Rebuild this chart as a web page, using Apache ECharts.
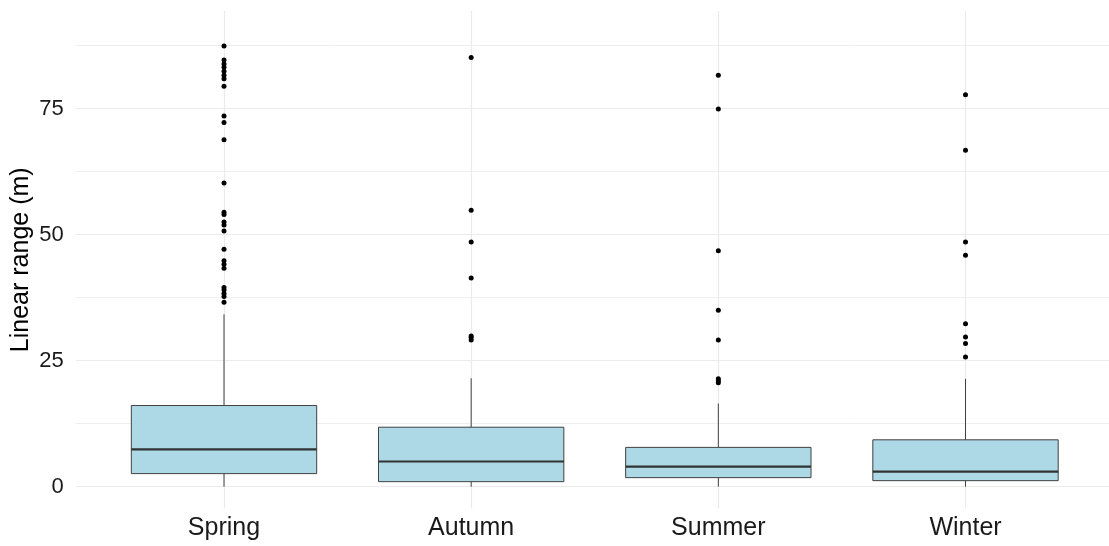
<!DOCTYPE html>
<html><head><meta charset="utf-8">
<script src="https://cdn.jsdelivr.net/npm/echarts@6/dist/echarts.min.js"></script>
<style>html,body{margin:0;padding:0;background:#fff}#c{width:1109px;height:546px}</style>
</head><body><div id="c"></div>
<script>
const seasons = ['Spring', 'Autumn', 'Summer', 'Winter'];
const whiskerLow  = [0, 0, 0, 0];
const q1          = [2.6, 1.0, 1.8, 1.2];
const median      = [7.4, 5.0, 4.0, 3.0];
const q3          = [16.1, 11.8, 7.8, 9.3];
const whiskerHigh = [34.2, 21.5, 16.5, 21.4];
const springOutliers = [87.4, 84.6, 83.8, 83.2, 82.4, 81.6, 80.9, 79.4, 73.5, 72.2, 68.8, 60.2, 54.4, 54.0, 52.5, 51.9, 50.7, 47.1, 44.8, 44.1, 43.3, 39.5, 39.0, 38.3, 37.7, 36.6];
const autumnOutliers = [85.1, 54.8, 48.5, 41.4, 29.9, 29.6, 29.1];
const summerOutliers = [81.6, 74.9, 46.8, 35.0, 29.1, 21.4, 21.0, 20.6];
const winterOutliers = [77.7, 66.7, 48.5, 45.9, 32.3, 29.7, 28.4, 25.7];
const yMajorTicks = [0, 25, 50, 75];
const yMinorTicks = [12.5, 37.5, 62.5, 87.5];
const yTitle = 'Linear range (m)';

const outliers = [springOutliers, autumnOutliers, summerOutliers, winterOutliers];
const xPos = seasons.map((s, i) => i + 1);
const boxData = seasons.map((s, i) => [i + 1, whiskerLow[i], q1[i], median[i], q3[i], whiskerHigh[i]]);
const outlierData = [];
seasons.forEach((s, i) => outliers[i].forEach(v => outlierData.push([i + 1, v])));

const FONT = '"Liberation Sans", Arial, sans-serif';
const GRID = '#ebebeb';
const chart = echarts.init(document.getElementById('c'), null, {renderer: 'canvas'});
chart.setOption({
  animation: false,
  backgroundColor: '#fff',
  grid: {left: 75.7, right: -4.8, top: 11, bottom: 37.5, containLabel: false, outerBoundsMode: 'none'},
  xAxis: {
    type: 'value', min: 0.4, max: 4.6,
    axisLine: {show: false},
    axisTick: {show: false, customValues: xPos},
    axisLabel: {customValues: xPos, formatter: v => seasons[Math.round(v) - 1], margin: 7,
      fontSize: 25, color: '#1a1a1a', fontFamily: FONT, verticalAlign: 'top'},
    splitLine: {show: true, lineStyle: {color: GRID, width: 1.2}}
  },
  yAxis: [{
    type: 'value', min: -4.32, max: 94.33,
    name: yTitle, nameLocation: 'middle', nameGap: 42, nameRotate: 90, nameMoveOverlap: false,
    nameTextStyle: {fontSize: 25, color: '#000', fontFamily: FONT},
    axisLine: {show: false},
    axisTick: {show: false, customValues: yMajorTicks},
    axisLabel: {customValues: yMajorTicks, margin: 12, fontSize: 22, color: '#1a1a1a', fontFamily: FONT},
    splitLine: {show: true, lineStyle: {color: GRID, width: 1.2}}
  }, {
    type: 'value', min: -4.32, max: 94.33, position: 'left',
    axisLine: {show: false},
    axisTick: {show: false, customValues: yMinorTicks},
    axisLabel: {show: false},
    splitLine: {show: true, lineStyle: {color: GRID, width: 0.8}}
  }],
  series: [{
    type: 'custom',
    data: boxData,
    encode: {x: 0, y: [1, 2, 3, 4, 5]},
    z: 2,
    renderItem: function (params, api) {
      const x = api.value(0);
      const lo = api.coord([x, api.value(1)]);
      const b1 = api.coord([x, api.value(2)]);
      const md = api.coord([x, api.value(3)]);
      const b3 = api.coord([x, api.value(4)]);
      const hi = api.coord([x, api.value(5)]);
      const hw = api.size([0.75, 0])[0] / 2;
      const stroke = '#404040';
      return {type: 'group', children: [
        {type: 'line', shape: {x1: lo[0], y1: lo[1], x2: b1[0], y2: b1[1]}, style: {stroke: stroke, lineWidth: 1}},
        {type: 'line', shape: {x1: b3[0], y1: b3[1], x2: hi[0], y2: hi[1]}, style: {stroke: stroke, lineWidth: 1}},
        {type: 'rect', shape: {x: b3[0] - hw, y: b3[1], width: 2 * hw, height: b1[1] - b3[1]},
          style: {fill: '#ADD8E6', stroke: stroke, lineWidth: 1}},
        {type: 'line', shape: {x1: md[0] - hw, y1: md[1], x2: md[0] + hw, y2: md[1]},
          style: {stroke: '#333', lineWidth: 2.2}}
      ]};
    }
  }, {
    type: 'scatter',
    data: outlierData,
    symbol: 'circle',
    symbolSize: 5,
    itemStyle: {color: '#000', opacity: 1},
    z: 3
  }]
});
</script>
</body></html>
